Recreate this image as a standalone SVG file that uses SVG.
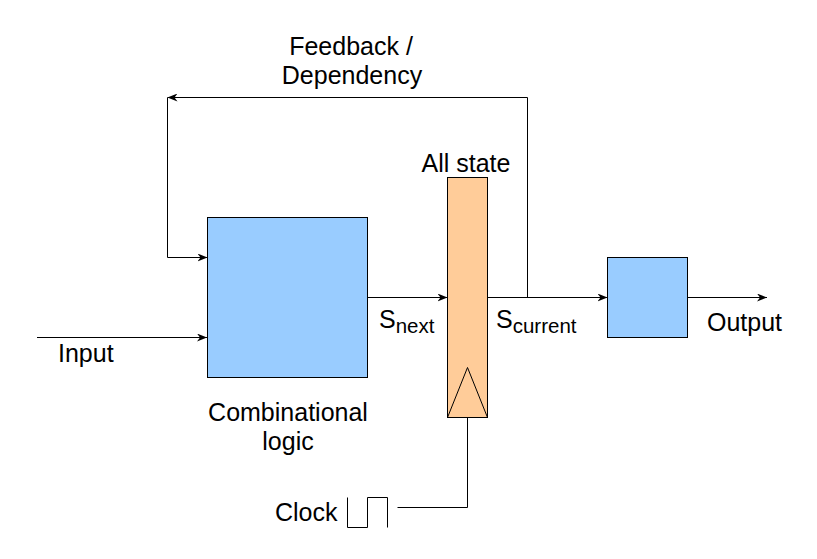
<svg xmlns="http://www.w3.org/2000/svg" width="817" height="559" viewBox="0 0 817 559">
<style>
text { font-family: "Liberation Sans", Arial, sans-serif; font-size: 25px; fill: #000; }
.mid { text-anchor: middle; }
.edge { fill: none; stroke: #000; stroke-width: 1; }
.box { stroke: #000; stroke-width: 1; }
</style>
<defs>
<marker id="arr" viewBox="0 0 10 8" markerWidth="10" markerHeight="8" refX="10" refY="4" orient="auto" markerUnits="userSpaceOnUse">
<path d="M0,0 L10,4 L0,8 L3,4 Z" fill="#000"/>
</marker>
</defs>
<rect width="817" height="559" fill="#fff"/>
<g id="connectors">
<path class="edge" d="M37,337.5 H207" marker-end="url(#arr)"/>
<path class="edge" d="M367.5,297.5 H447.5" marker-end="url(#arr)"/>
<path class="edge" d="M487.5,297.5 H607.5" marker-end="url(#arr)"/>
<path class="edge" d="M527.5,297.5 V97.5 H167.5" marker-end="url(#arr)"/>
<path class="edge" d="M167.5,97.5 V257.5 H207.5" marker-end="url(#arr)"/>
<path class="edge" d="M687.5,297.5 H767" marker-end="url(#arr)"/>
<path class="edge" d="M397.5,507.5 H467.5 V417.5"/>
</g>
<g id="comb-logic">
<rect class="box" x="207.5" y="217.5" width="160" height="160" fill="#99CCFF"/>
<text class="mid" x="288" y="421">Combinational</text>
<text class="mid" x="288" y="450">logic</text>
</g>
<g id="all-state">
<rect class="box" x="447.5" y="177.5" width="40" height="240" fill="#FFCC99"/>
<path class="edge" d="M447.5,417.5 L467.5,367.5 L487.5,417.5"/>
<text class="mid" x="466" y="171.5">All state</text>
</g>
<g id="output-logic">
<rect class="box" x="607.5" y="257.5" width="80" height="80" fill="#99CCFF"/>
</g>
<g id="clock">
<path class="edge" d="M347.5,497.5 V527.5 H367.5 V497.5 H387.5 V527.5"/>
<text x="275" y="521">Clock</text>
</g>
<g id="labels">
<text class="mid" x="351" y="54.5">Feedback /</text>
<text class="mid" x="352" y="83.5">Dependency</text>
<text x="58" y="361.5">Input</text>
<text x="707" y="331">Output</text>
<text x="379" y="328">S<tspan font-size="20.5" dy="5">next</tspan></text>
<text x="496" y="328">S<tspan font-size="20.5" dy="5">current</tspan></text>
</g>
</svg>
